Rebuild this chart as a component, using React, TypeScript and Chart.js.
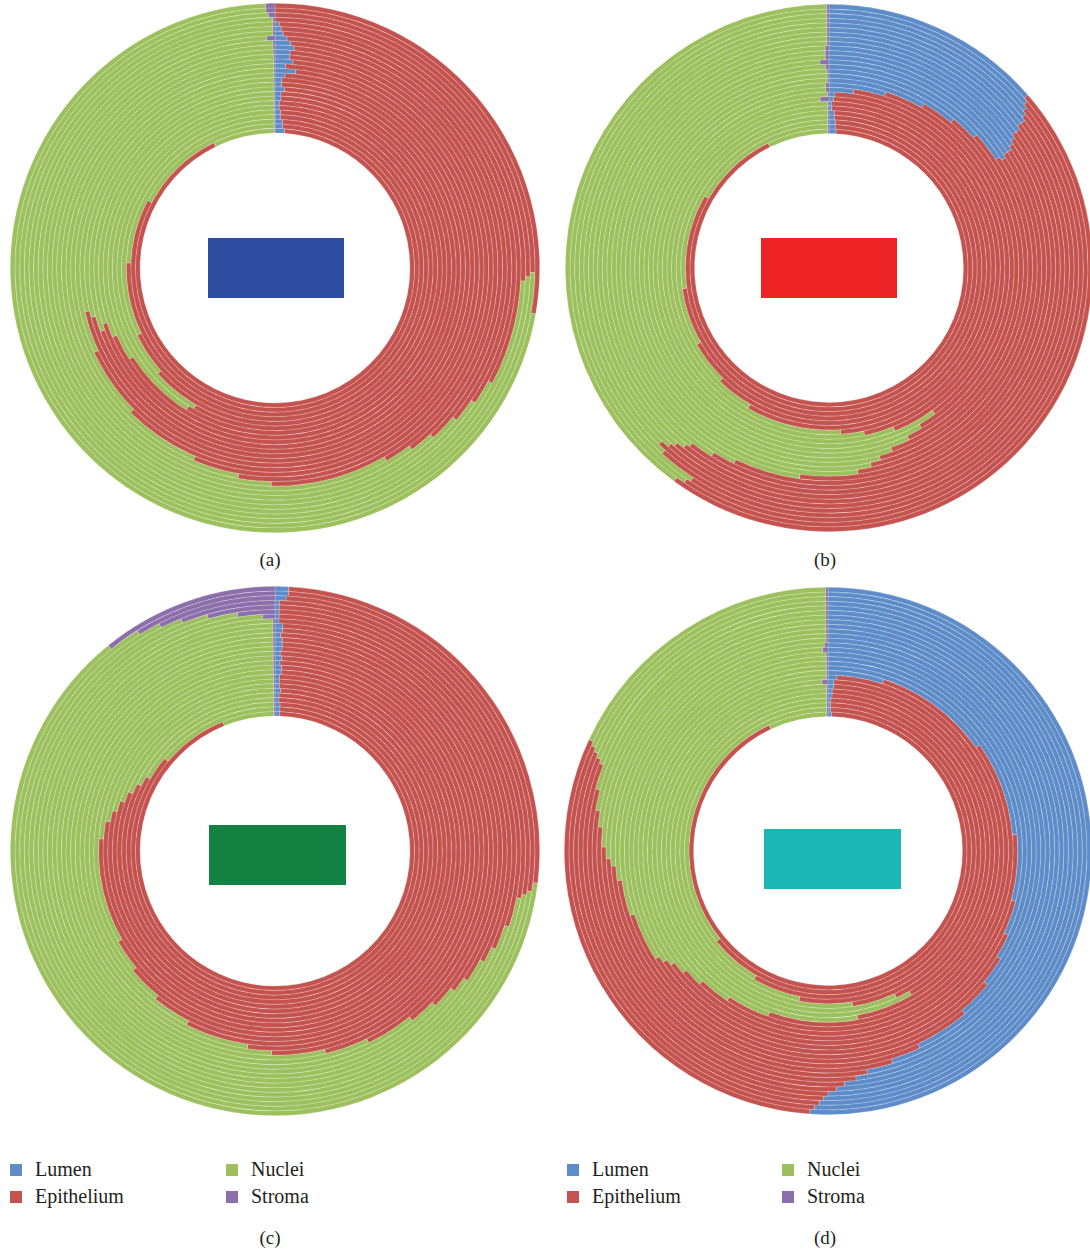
import React, { useEffect, useRef } from 'react';
import { Chart, registerables } from 'chart.js';

Chart.register(...registerables);

// Classes (clockwise from 12 o'clock) and their colours
const classNames = ['Lumen', 'Epithelium', 'Nuclei', 'Stroma'];
const classColors = ['#5D8CC8', '#C4534F', '#9CC05D', '#8B6EAA'];

// Each ring's share of the full circle (360 = whole ring), outermost ring first (28 rings)
// Panel (a)
const aLumen = [0, 0, 0, 0, 1, 1.5, 2, 3, 4, 5, 4, 4, 5, 3, 6, 3, 2, 2, 3, 2, 2, 1.5, 1.5, 2, 2, 3, 3, 4];
const aEpithelium = [100, 91, 92, 93, 117, 122.5, 128, 134, 139, 145, 177, 186, 198, 222, 239, 254, 253, 248, 249, 245, 236, 210.5, 208.5, 226, 242, 269, 295, 330];
const aNuclei = [258, 267, 266.5, 266.5, 241.5, 235.5, 229.5, 221, 216.5, 209.5, 178.5, 169.7, 156.7, 134.7, 114.7, 102.7, 104.7, 109.7, 107.7, 112.7, 121.7, 147.7, 149.7, 131.7, 115.7, 87.7, 61.7, 25.7];
const aStroma = [2, 2, 1.5, 0.5, 0.5, 0.5, 0.5, 2, 0.5, 0.5, 0.5, 0.3, 0.3, 0.3, 0.3, 0.3, 0.3, 0.3, 0.3, 0.3, 0.3, 0.3, 0.3, 0.3, 0.3, 0.3, 0.3, 0.3];

// Panel (b)
const bLumen = [49, 50, 51, 52, 53, 53, 54, 54, 55, 56, 57, 57, 58, 57, 48, 40, 30, 18, 8, 2, 1.5, 1, 1, 2, 2, 2.5, 2.5, 3];
const bEpithelium = [167, 164, 162, 170, 171, 169, 167, 165, 163, 156, 149, 131, 114, 111, 117, 121, 125, 132, 136, 156, 166.5, 175, 209, 222, 238, 259.5, 297.5, 331];
const bNuclei = [143.5, 145.5, 146.5, 137.5, 135.5, 137.5, 138.5, 140.5, 141.5, 147, 153, 171, 185.5, 191, 194.5, 198.5, 204.5, 209, 215, 201.5, 189, 183.5, 149.5, 135.5, 119.5, 97.5, 59.5, 25.5];
const bStroma = [0.5, 0.5, 0.5, 0.5, 0.5, 0.5, 0.5, 0.5, 0.5, 1, 1, 1, 2.5, 1, 0.5, 0.5, 0.5, 1, 1, 0.5, 3, 0.5, 0.5, 0.5, 0.5, 0.5, 0.5, 0.5];

// Panel (c)
const cLumen = [3, 3, 2.5, 1, 1, 1, 1, 1, 2, 2, 1.5, 2, 2, 2, 1.5, 2, 1.5, 2, 2, 1.5, 1.5, 1.5, 2, 1.5, 1.5, 2, 2, 2];
const cEpithelium = [94, 96, 97.5, 100, 107, 113, 117, 123, 126, 132, 139.5, 152, 164, 179, 186.5, 205, 217.5, 228, 238, 272.5, 278.5, 282.5, 286, 290.5, 294.5, 298, 308, 336];
const cNuclei = [224, 229, 233, 237, 236, 237, 239, 235.5, 231.5, 225.5, 218.5, 205.5, 193.5, 178.5, 171.5, 152.5, 140.5, 129.5, 119.5, 85.5, 79.5, 75.5, 71.5, 67.5, 63.5, 59.5, 49.5, 21.5];
const cStroma = [39, 32, 27, 22, 16, 9, 3, 0.5, 0.5, 0.5, 0.5, 0.5, 0.5, 0.5, 0.5, 0.5, 0.5, 0.5, 0.5, 0.5, 0.5, 0.5, 0.5, 0.5, 0.5, 0.5, 0.5, 0.5];

// Panel (d)
const dLumen = [184, 183, 182, 181, 180, 178, 176, 173, 170, 163, 155, 140, 130, 122, 115, 105, 85, 55, 18, 3, 2, 2, 1.5, 1.5, 1, 1, 1, 1.5];
const dEpithelium = [111, 111, 111, 111, 111, 107, 104, 103, 101, 105, 111, 122, 122, 116, 121, 129, 145, 169, 196, 197, 168, 148, 153.5, 169.5, 190, 209, 230, 333.5];
const dNuclei = [64.5, 65.5, 66.5, 67.5, 68.5, 74.5, 79.5, 83.5, 88.5, 91.5, 93.5, 97.5, 107, 120.5, 123.5, 125.5, 129.5, 135.5, 145.5, 159.5, 188, 209.5, 204.5, 188.5, 168.5, 149.5, 128.5, 24.5];
const dStroma = [0.5, 0.5, 0.5, 0.5, 0.5, 0.5, 0.5, 0.5, 0.5, 0.5, 0.5, 0.5, 1, 1.5, 0.5, 0.5, 0.5, 0.5, 0.5, 0.5, 2, 0.5, 0.5, 0.5, 0.5, 0.5, 0.5, 0.5];

const panelLabels = ['(a)', '(b)', '(c)', '(d)'];

const SERIF = '"Liberation Serif", "DejaVu Serif", serif';

type DonutProps = {
  cx: number;
  cy: number;
  r: number;
  lumen: number[];
  epithelium: number[];
  nuclei: number[];
  stroma: number[];
};

function Donut({ cx, cy, r, lumen, epithelium, nuclei, stroma }: DonutProps) {
  const ref = useRef<HTMLCanvasElement>(null);
  useEffect(() => {
    if (!ref.current) return;
    const datasets = lumen.map((_, k) => ({
      label: 'Ring ' + (k + 1),
      data: [lumen[k], epithelium[k], nuclei[k], stroma[k]],
      backgroundColor: classColors,
      borderColor: 'rgba(255,255,255,0.35)',
      borderWidth: 0.6,
    }));
    const chart = new Chart(ref.current, {
      type: 'doughnut',
      data: { labels: classNames, datasets },
      options: {
        responsive: false,
        animation: false,
        cutout: '51%',
        layout: { padding: 0 },
        plugins: { legend: { display: false }, tooltip: { enabled: false } },
      },
    });
    return () => chart.destroy();
  }, []);
  const size = r * 2;
  return (
    <canvas
      ref={ref}
      width={size}
      height={size}
      style={{ position: 'absolute', left: cx - r, top: cy - r, width: size, height: size }}
    />
  );
}

function Box({ x, y, w, h, color }: { x: number; y: number; w: number; h: number; color: string }) {
  return <div style={{ position: 'absolute', left: x, top: y, width: w, height: h, background: color }} />;
}

function Label({ x, y, text }: { x: number; y: number; text: string }) {
  return (
    <div
      style={{
        position: 'absolute',
        left: x - 40,
        top: y - 12,
        width: 80,
        textAlign: 'center',
        fontFamily: SERIF,
        fontSize: 19,
        lineHeight: '24px',
        color: '#231F20',
      }}
    >
      {text}
    </div>
  );
}

function Legend({ x1, x2 }: { x1: number; x2: number }) {
  const items = [
    { i: 0, x: x1, y: 1170 },
    { i: 1, x: x1, y: 1197 },
    { i: 2, x: x2, y: 1170 },
    { i: 3, x: x2, y: 1197 },
  ];
  return (
    <>
      {items.map((it) => (
        <React.Fragment key={it.i}>
          <div
            style={{
              position: 'absolute',
              left: it.x,
              top: it.y - 6,
              width: 12,
              height: 12,
              background: classColors[it.i],
            }}
          />
          <div
            style={{
              position: 'absolute',
              left: it.x + 25,
              top: it.y - 13,
              fontFamily: SERIF,
              fontSize: 20,
              lineHeight: '24px',
              color: '#231F20',
              whiteSpace: 'nowrap',
            }}
          >
            {classNames[it.i]}
          </div>
        </React.Fragment>
      ))}
    </>
  );
}

export default function App() {
  return (
    <div
      style={{
        position: 'absolute',
        left: 0,
        top: 0,
        width: 1090,
        height: 1253,
        overflow: 'hidden',
        background: '#ffffff',
      }}
    >
      <Donut cx={275} cy={268} r={265} lumen={aLumen} epithelium={aEpithelium} nuclei={aNuclei} stroma={aStroma} />
      <Donut cx={829} cy={268} r={264} lumen={bLumen} epithelium={bEpithelium} nuclei={bNuclei} stroma={bStroma} />
      <Donut cx={275} cy={851} r={265} lumen={cLumen} epithelium={cEpithelium} nuclei={cNuclei} stroma={cStroma} />
      <Donut cx={828} cy={851} r={264} lumen={dLumen} epithelium={dEpithelium} nuclei={dNuclei} stroma={dStroma} />

      <Box x={208} y={238} w={136} h={60} color="#2E4DA0" />
      <Box x={761} y={238} w={136} h={60} color="#EE2326" />
      <Box x={209} y={825} w={137} h={60} color="#138141" />
      <Box x={764} y={829} w={137} h={60} color="#1CB6B4" />

      <Label x={270} y={560} text={panelLabels[0]} />
      <Label x={825} y={560} text={panelLabels[1]} />
      <Label x={270} y={1238} text={panelLabels[2]} />
      <Label x={825} y={1238} text={panelLabels[3]} />

      <Legend x1={10} x2={226} />
      <Legend x1={567} x2={782} />
    </div>
  );
}
